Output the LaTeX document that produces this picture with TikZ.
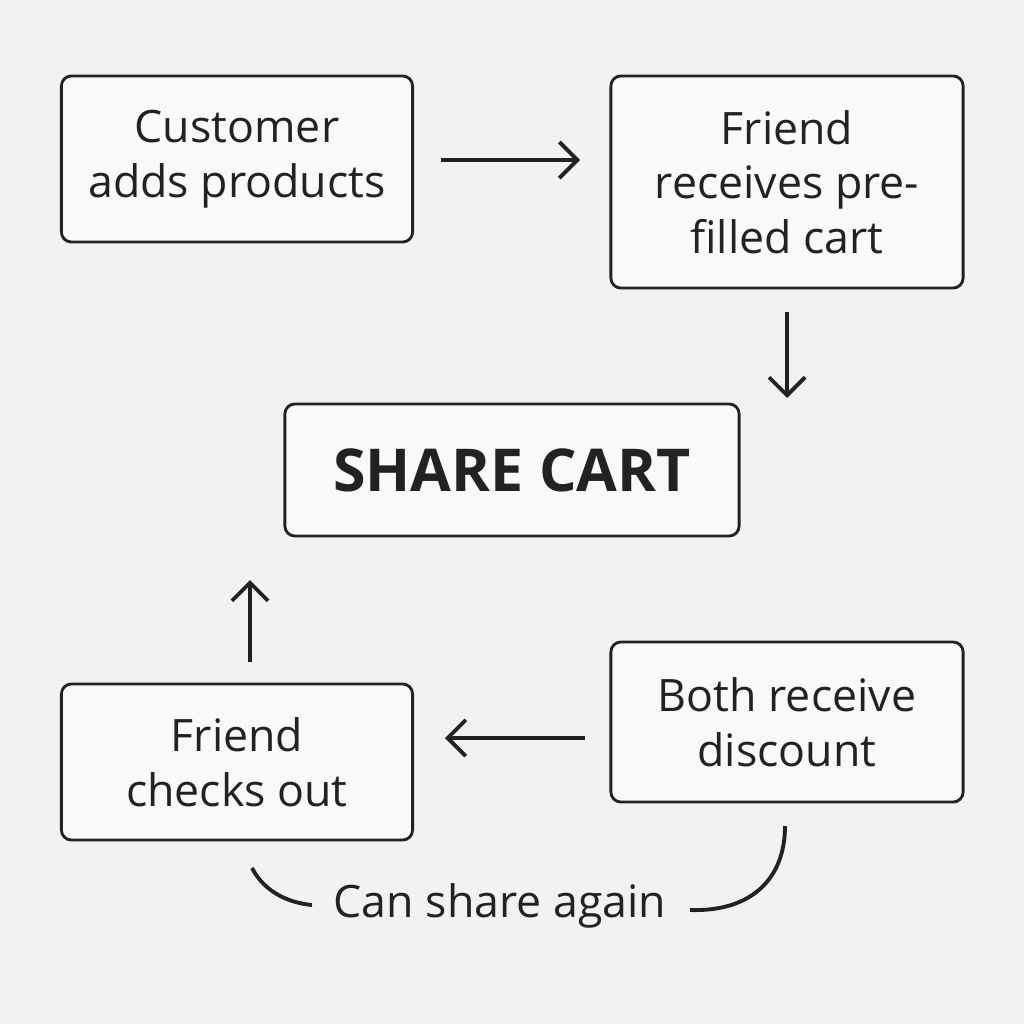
\documentclass[tikz,border=0pt]{standalone}
\usepackage{fontspec}
\setmainfont{Open Sans}
\usetikzlibrary{arrows.meta}
\definecolor{bg}{HTML}{F2F2F0}
\definecolor{bx}{HTML}{F9F9F7}
\definecolor{ink}{HTML}{222222}
\begin{document}
\begin{tikzpicture}[x=0.01cm,y=-0.01cm,
  box/.style={draw=ink,fill=bx,line width=0.8pt,rounded corners=0.1cm,align=center,text=ink,font=\fontsize{12.7}{15.5}\selectfont,inner sep=0pt},
  arr/.style={draw=ink,line width=1.1pt,-{Straight Barb[length=0.18cm,width=0.36cm]}},
  crv/.style={draw=ink,line width=1.1pt}]
\fill[bg] (0,0) rectangle (1024,1024);
\useasboundingbox (0,0) rectangle (1024,1024);
\node[box,minimum width=3.51cm,minimum height=1.66cm] (a) at (237,159) {Customer\\adds products};
\node[box,minimum width=3.52cm,minimum height=2.12cm] (b) at (787,182) {Friend\\receives pre-\\filled cart};
\node[box,minimum width=4.54cm,minimum height=1.32cm,font=\fontsize{16.8}{18}\selectfont\bfseries] (s) at (512,470) {SHARE CART};
\node[box,minimum width=3.51cm,minimum height=1.56cm] (c) at (237,762) {Friend\\checks out};
\node[box,minimum width=3.52cm,minimum height=1.60cm] (d) at (787,722) {Both receive\\discount};
\node[text=ink,font=\fontsize{12.7}{14}\selectfont] (t) at (500,906) {Can share again};
\coordinate (a1) at (441,160); \coordinate (a2) at (580,160);
\coordinate (b1) at (787,312); \coordinate (b2) at (787,398);
\coordinate (d1) at (585,738); \coordinate (d2) at (445,738);
\coordinate (c1) at (250,662); \coordinate (c2) at (250,580);
\draw[arr] (a1) -- (a2);
\draw[arr] (b1) -- (b2);
\draw[arr] (d1) -- (d2);
\draw[arr] (c1) -- (c2);
\coordinate (l1) at (252,868); \coordinate (l2) at (312,905);
\coordinate (r1) at (690,910); \coordinate (r2) at (785,826);
\draw[crv] (l1) .. controls (265,893) and (290,903) .. (l2);
\draw[crv] (r1) .. controls (750,912) and (785,880) .. (r2);
\end{tikzpicture}
\end{document}
